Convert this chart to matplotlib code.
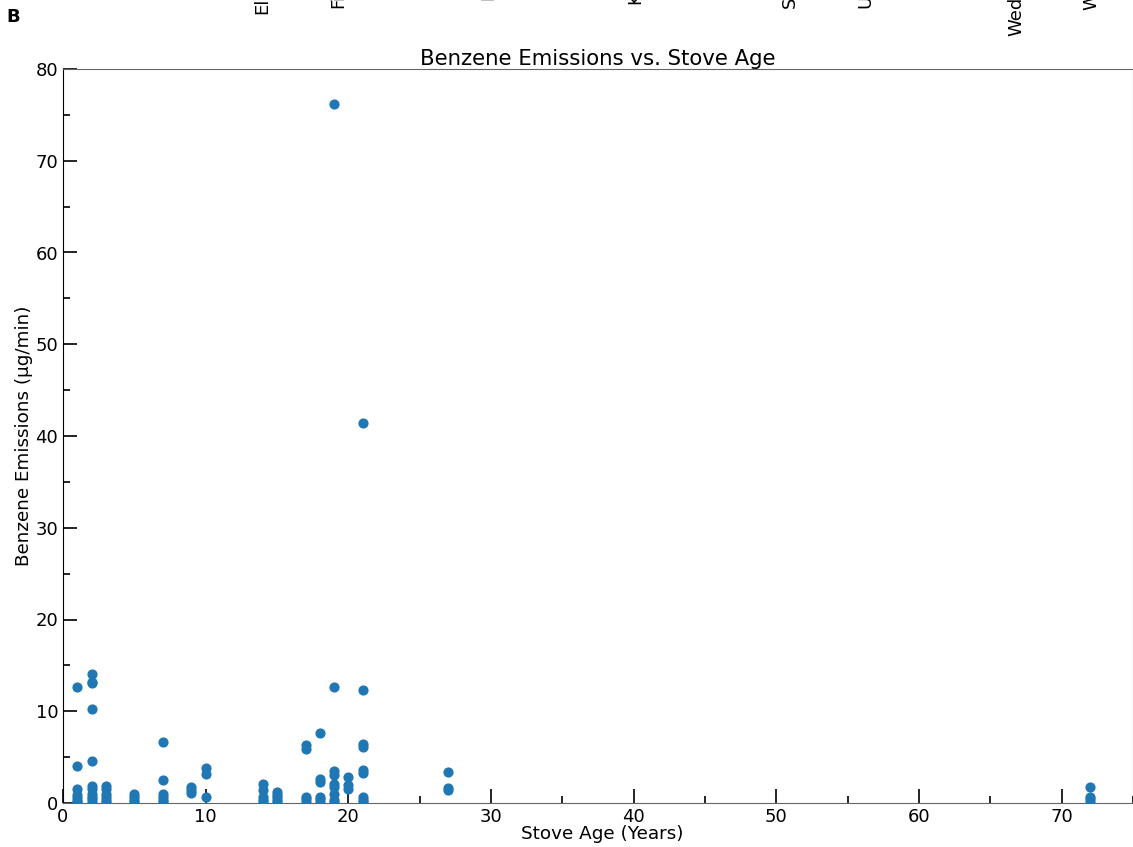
import matplotlib
matplotlib.use("Agg")
import matplotlib.pyplot as plt
from matplotlib.ticker import MultipleLocator

# stove age (years) -> benzene emission readings (ug/min)
ages = [1, 2, 3, 5, 7, 9, 10, 14, 15, 17, 18, 19, 20, 21, 27, 72]
emissions = {
    1: [12.6, 4.0, 1.5, 0.9, 0.5, 0.2, 0.1],
    2: [14.1, 13.2, 13.1, 10.2, 4.6, 1.8, 1.5, 1.0, 0.7, 0.4, 0.1],
    3: [1.8, 1.5, 1.0, 0.6, 0.3, 0.1],
    5: [1.0, 0.7, 0.3, 0.1],
    7: [6.7, 2.5, 1.0, 0.7, 0.3, 0.1],
    9: [1.7, 1.4, 1.1],
    10: [3.8, 3.2, 0.7],
    14: [2.1, 1.4, 0.6, 0.3, 0.1],
    15: [1.2, 0.9, 0.6, 0.3, 0.1],
    17: [6.3, 5.9, 0.7, 0.4, 0.1],
    18: [7.6, 2.6, 2.3, 0.7, 0.4, 0.1],
    19: [76.2, 12.6, 3.5, 3.1, 2.1, 1.7, 1.0, 0.3, 0.1],
    20: [2.8, 2.0, 1.5],
    21: [41.4, 12.3, 6.4, 6.1, 3.6, 3.3, 0.6, 0.3, 0.1],
    27: [3.4, 1.6, 1.4],
    72: [1.7, 0.7, 0.4, 0.1],
}

# leftover rotated labels from the panel above (only their starts show)
top_labels = ["Electric", "Fireplace", "Insert", "Kitchen stove", "Stove",
              "Unknown", "Wednesday", "Wood"]
top_label_x = [262, 338, 488, 637, 790, 865, 1016, 1091]
top_label_bottom = [14, 8, 0, 5, 8, 8, 36, 10]

W, H = 1133, 847
fig = plt.figure(figsize=(W / 100, H / 100), dpi=100)
ax = fig.add_axes([63 / W, (H - 803) / H, (W - 63) / W, (803 - 69) / H])

xs, ys = [], []
for a in ages:
    for v in emissions[a]:
        xs.append(a)
        ys.append(v)
ax.scatter(xs, ys, s=40, color="#1f77b4", zorder=3)

ax.set_xlim(0, 75)
ax.set_ylim(0, 80)
ax.xaxis.set_major_locator(MultipleLocator(10))
ax.xaxis.set_minor_locator(MultipleLocator(5))
ax.yaxis.set_major_locator(MultipleLocator(10))
ax.yaxis.set_minor_locator(MultipleLocator(5))
ax.tick_params(which="major", direction="in", length=10, width=1.2, labelsize=13)
ax.tick_params(which="minor", direction="in", length=5, width=1.2)

for side in ["top", "bottom", "right"]:
    ax.spines[side].set_color("#666666")
ax.spines["left"].set_color("black")

ax.set_title("Benzene Emissions vs. Stove Age", fontsize=15.3, pad=1)
ax.set_xlabel("Stove Age (Years)", fontsize=13.2, labelpad=0)
ax.xaxis.set_label_coords(0.504, -0.03)
ax.set_ylabel("Benzene Emissions (\u03bcg/min)", fontsize=13.2, labelpad=2)

fig.text(6 / W, 1 - 17 / H, "B", fontsize=13, fontweight="bold", va="center")

for lab, px, pb in zip(top_labels, top_label_x, top_label_bottom):
    fig.text(px / W, 1 - pb / H, lab, rotation=90, fontsize=13,
             ha="center", va="bottom")

fig.savefig("out.png", dpi=100)
